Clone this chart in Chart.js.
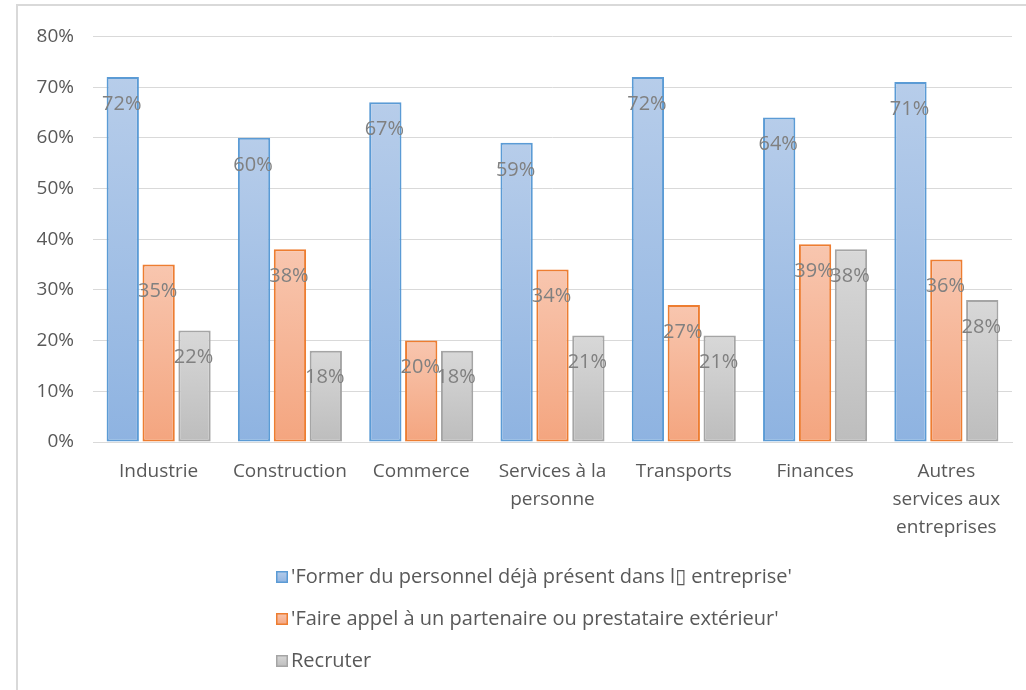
<!DOCTYPE html>
<html lang="fr">
<head>
<meta charset="UTF-8">
<title>Solutions envisagées par secteur</title>
<script src="https://cdn.jsdelivr.net/npm/chart.js"></script>
<style>
  body { margin: 0; background: #fff; }
  .frame {
    position: absolute;
    left: 16px;
    top: 4px;
    width: 1008px;
    height: 684px;
    border-left: 2px solid #d9d9d9;
    border-top: 2px solid #d9d9d9;
  }
</style>
</head>
<body>
<div class="frame"><canvas id="chart" width="1008" height="684"></canvas></div>
<script>
const categories = [
  'Industrie',
  'Construction',
  'Commerce',
  ['Services à la', 'personne'],
  'Transports',
  'Finances',
  ['Autres', 'services aux', 'entreprises']
];
const seriesNames = [
  "'Former du personnel déjà présent dans l\u25AF entreprise'",
  "'Faire appel à un partenaire ou prestataire extérieur'",
  'Recruter'
];
const former = [72, 60, 67, 59, 72, 64, 71];
const partenaire = [35, 38, 20, 34, 27, 39, 36];
const recruter = [22, 18, 18, 21, 21, 38, 28];
const yTicks = [0, 10, 20, 30, 40, 50, 60, 70, 80];

// light top / darker bottom for each bar, plus outline colour
const palette = [
  { top: '#b7cdea', bottom: '#8eb3e1', border: '#5b9bd5' },
  { top: '#f8c6af', bottom: '#f4a57f', border: '#ed7d31' },
  { top: '#d8d8d8', bottom: '#bdbdbd', border: '#a5a5a5' }
];

const FONT = '"Open Sans", "DejaVu Sans", sans-serif';

function barGradient(i) {
  return function (c) {
    const chart = c.chart;
    const y = chart.scales && chart.scales.y;
    if (!chart.chartArea || !y || c.parsed == null) return palette[i].bottom;
    const top = y.getPixelForValue(c.parsed.y);
    const base = y.getPixelForValue(0);
    const g = chart.ctx.createLinearGradient(0, top, 0, base);
    g.addColorStop(0, palette[i].top);
    g.addColorStop(1, palette[i].bottom);
    return g;
  };
}

// value labels just under the top of each bar
const valueLabels = {
  id: 'valueLabels',
  afterDatasetsDraw(chart) {
    const ctx = chart.ctx;
    ctx.save();
    ctx.font = '20px ' + FONT;
    ctx.fillStyle = '#808080';
    ctx.textAlign = 'center';
    ctx.textBaseline = 'middle';
    chart.data.datasets.forEach((ds, i) => {
      chart.getDatasetMeta(i).data.forEach((bar, j) => {
        ctx.fillText(ds.data[j] + '%', bar.x - 1, bar.y + 27);
      });
    });
    ctx.restore();
  }
};

// stacked legend below the axis
const stackedLegend = {
  id: 'stackedLegend',
  afterDraw(chart) {
    const ctx = chart.ctx;
    const x = 258;
    const y0 = chart.chartArea.bottom + 135;
    ctx.save();
    ctx.font = '20px ' + FONT;
    ctx.textBaseline = 'middle';
    chart.data.datasets.forEach((ds, i) => {
      const y = y0 + i * 42;
      const g = ctx.createLinearGradient(0, y - 6, 0, y + 6);
      g.addColorStop(0, palette[i].top);
      g.addColorStop(1, palette[i].bottom);
      ctx.fillStyle = g;
      ctx.fillRect(x, y - 6, 12, 12);
      ctx.strokeStyle = palette[i].border;
      ctx.lineWidth = 1.5;
      ctx.strokeRect(x + 0.75, y - 5.25, 10.5, 10.5);
      ctx.fillStyle = '#595959';
      ctx.textAlign = 'left';
      ctx.fillText(ds.label, x + 15, y);
    });
    ctx.restore();
  }
};

const datasets = [former, partenaire, recruter].map((values, i) => ({
  label: seriesNames[i],
  data: values,
  backgroundColor: barGradient(i),
  borderColor: palette[i].border,
  borderWidth: 2,
  borderSkipped: false,
  categoryPercentage: 0.82,
  barPercentage: 0.9
}));

new Chart(document.getElementById('chart'), {
  type: 'bar',
  data: { labels: categories, datasets: datasets },
  options: {
    responsive: false,
    animation: false,
    layout: { padding: { left: 0, right: 14, top: 27, bottom: 138 } },
    plugins: {
      legend: { display: false },
      tooltip: { enabled: false }
    },
    scales: {
      x: {
        grid: { display: false, drawTicks: false },
        border: { display: true, color: '#d9d9d9', width: 1 },
        ticks: {
          color: '#595959',
          padding: 16,
          maxRotation: 0,
          autoSkip: false,
          font: { family: FONT, size: 19, lineHeight: 1.47 }
        },
        afterFit(scale) { scale.height = 110; }
      },
      y: {
        min: 0,
        max: 80,
        afterBuildTicks(scale) {
          scale.ticks = yTicks.map(v => ({ value: v }));
        },
        grid: { color: '#d9d9d9', lineWidth: 1, drawTicks: false },
        border: { display: false },
        ticks: {
          color: '#595959',
          padding: 19,
          font: { family: FONT, size: 19 },
          callback: v => v + '%'
        },
        afterFit(scale) { scale.width = 75; }
      }
    }
  },
  plugins: [valueLabels, stackedLegend]
});
</script>
</body>
</html>
